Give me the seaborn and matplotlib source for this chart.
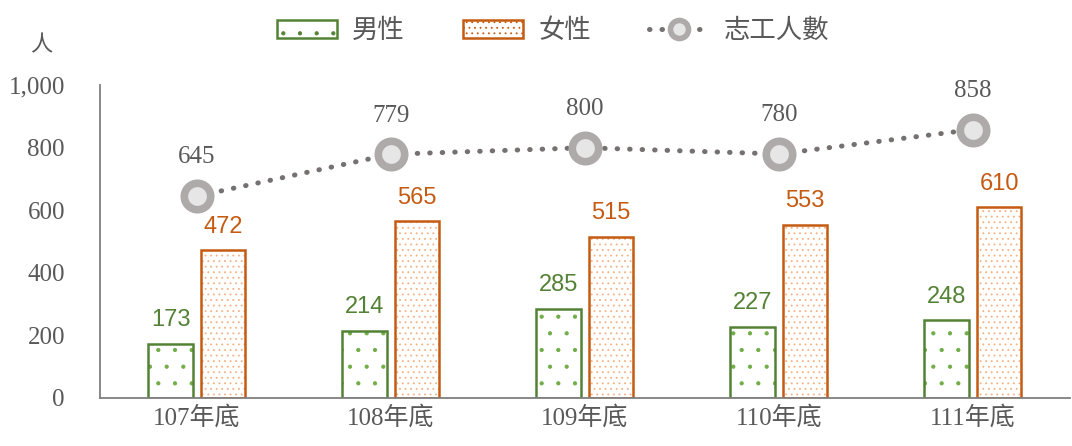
import pandas as pd
import matplotlib.pyplot as plt
import seaborn as sns
from matplotlib.patches import Patch
from matplotlib.lines import Line2D

# data
years = ["107年底", "108年底", "109年底", "110年底", "111年底"]
male = [173, 214, 285, 227, 248]
female = [472, 565, 515, 553, 610]
volunteers = [645, 779, 800, 780, 858]

green = "#548235"
green_dot = "#70AD47"
orange = "#C55A11"
orange_dot = "#F4B183"
grey_txt = "#595959"

sns.set_style("white")
plt.rcParams["font.family"] = ["Liberation Serif", "Noto Sans CJK TC"]
plt.rcParams["hatch.linewidth"] = 0.6

bars = pd.DataFrame({
    "year": years * 2,
    "count": male + female,
    "sex": ["男性"] * 5 + ["女性"] * 5,
})
line = pd.DataFrame({"year": years, "count": volunteers})

fig = plt.figure(figsize=(10.72, 4.46), dpi=100)
ax = fig.add_axes([0.093, 0.108, 0.905, 0.701])

# hatched fill layer
sns.barplot(data=bars, x="year", y="count", hue="sex", order=years,
            hue_order=["男性", "女性"], palette=["white", "white"],
            width=0.54, gap=0.15, legend=False, ax=ax, saturation=1)
fills = list(ax.patches)
for i, p in enumerate(fills):
    if i < 5:
        p.set_hatch(".")
        p.set_edgecolor(green_dot)
    else:
        p.set_hatch("...")
        p.set_edgecolor(orange_dot)
    p.set_linewidth(0)

# outline layer
sns.barplot(data=bars, x="year", y="count", hue="sex", order=years,
            hue_order=["男性", "女性"], palette=["white", "white"],
            width=0.54, gap=0.15, legend=False, ax=ax, fill=False)
outlines = [p for p in ax.patches if p not in fills]
for i, p in enumerate(outlines):
    p.set_edgecolor(green if i < 5 else orange)
    p.set_linewidth(1.8)
    p.set_facecolor("none")

for cont, col in zip(ax.containers[2:4], [green, orange]):
    ax.bar_label(cont, padding=9, color=col, fontsize=17,
                 family=["Liberation Sans", "DejaVu Sans"])

# volunteer line
dots = (0, (0.1, 2.4))
sns.pointplot(data=line, x="year", y="count", order=years, ax=ax,
              color="#767171", errorbar=None, markers="o",
              linestyles=dots, markersize=21,
              markerfacecolor="#E7E6E6", markeredgecolor="#AEAAAA",
              markeredgewidth=6, linewidth=3.6)
pl = ax.lines[-1]
pl.set_dash_capstyle("round")
pl.set_markersize(19)
pl.set_markeredgewidth(5.5)
pl.set_zorder(5)

for i, v in enumerate(volunteers):
    ax.annotate(f"{v}", (i, v), xytext=(0, 20), textcoords="offset points",
                ha="center", va="bottom", fontsize=18, color=grey_txt)

ax.set_xlim(-0.5, 4.5)
ax.set_ylim(0, 1000)
ax.set_yticks(range(0, 1001, 200))
ax.set_yticklabels([f"{t:,}" for t in range(0, 1001, 200)])
ax.set_xlabel("")
ax.set_ylabel("")
for s in ["top", "right"]:
    ax.spines[s].set_visible(False)
ax.spines["left"].set_color("#7F7F7F")
ax.spines["bottom"].set_color("#7F7F7F")
ax.spines["left"].set_linewidth(1.3)
ax.spines["bottom"].set_linewidth(1.3)
ax.tick_params(axis="y", length=5, width=1.3, color="#7F7F7F",
               labelsize=18, labelcolor=grey_txt, pad=20)
ax.tick_params(axis="x", length=0, labelsize=18, labelcolor=grey_txt, pad=6)

fig.text(0.038, 0.9, "人", fontsize=16, color=grey_txt, ha="center",
         va="center", family=["Noto Sans CJK TC"])

handles = [
    Patch(facecolor="white", edgecolor=green, hatch=".", linewidth=1.8),
    Patch(facecolor="white", edgecolor=orange, hatch="...", linewidth=1.8),
    Line2D([], [], color="#767171", linestyle=dots, linewidth=3.6,
           dash_capstyle="round", marker="o", markersize=13,
           markerfacecolor="#E7E6E6", markeredgecolor="#AEAAAA",
           markeredgewidth=4),
]
fig.legend(handles, ["男性", "女性", "志工人數"], loc="upper center",
           bbox_to_anchor=(0.516, 1.015), ncol=3, frameon=False,
           prop={"family": ["Noto Sans CJK TC"], "size": 19},
           labelcolor=grey_txt, handlelength=2.3, handleheight=0.7,
           columnspacing=2.2, handletextpad=0.55)

fig.savefig("out.png", dpi=100)
